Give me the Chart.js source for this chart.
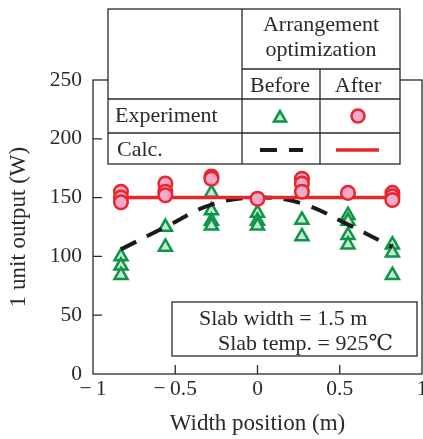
<!DOCTYPE html>
<html>
<head>
<meta charset="utf-8">
<script src="https://cdn.jsdelivr.net/npm/chart.js@4.4.1/dist/chart.umd.min.js"></script>
<style>
  html, body { margin: 0; padding: 0; background: #fff; }
  canvas { display: block; }
</style>
</head>
<body>
<canvas id="chart" width="423" height="439"></canvas>
<script>
// width positions (m) where the rolls were measured
const positions = [-0.83, -0.56, -0.28, 0, 0.27, 0.55, 0.82];
// experiment, before arrangement optimization (several readings per position)
const beforeExp = [[100, 92, 84], [125, 108], [154, 139, 130, 126], [137, 130, 126], [131, 117], [135, 130, 118, 110], [110, 103, 84]];
// experiment, after arrangement optimization
const afterExp = [[155, 150, 146], [162, 155, 152], [168, 166], [149], [166, 162, 155], [154], [154, 151, 148]];
// calculated curves
const calcBefore = [106, 125, 144, 150, 145, 127, 108];
const calcAfter = [150, 150, 150, 150, 150, 150, 150];
const xTicks = [-1, -0.5, 0, 0.5, 1];
const yTicks = [0, 50, 100, 150, 200, 250];

const FONT = '"Liberation Serif", "DejaVu Serif", serif';
const INK = '#2a2a2a';
const GREEN = '#0c9646';
const GREEN_FILL = '#c9e6d3';
const RED = '#e8262d';
const RED_FILL = '#f2aac8';

function toPoints(groups) {
  const pts = [];
  groups.forEach((vals, i) => {
    vals.forEach(v => pts.push({ x: positions[i], y: v }));
  });
  return pts;
}

function linePoints(vals) {
  return vals.map((v, i) => ({ x: positions[i], y: v }));
}

function fmtX(v) {
  return v < 0 ? '\u2212\u2009' + Math.abs(v) : String(v);
}

const framePlugin = {
  id: 'frame',
  beforeDatasetsDraw(chart) {
    const { ctx, chartArea: a, scales: { x, y } } = chart;
    ctx.save();
    ctx.strokeStyle = INK;
    ctx.lineWidth = 1.3;
    ctx.strokeRect(a.left, a.top, a.right - a.left, a.bottom - a.top);
    ctx.beginPath();
    xTicks.filter(v => v > x.min && v < x.max).forEach(v => {
      const px = x.getPixelForValue(v);
      ctx.moveTo(px, a.bottom);
      ctx.lineTo(px, a.bottom - 9);
    });
    yTicks.filter(v => v > y.min && v < y.max).forEach(v => {
      const py = y.getPixelForValue(v);
      ctx.moveTo(a.left, py);
      ctx.lineTo(a.left + 9, py);
    });
    ctx.stroke();
    ctx.restore();
  }
};

const notePlugin = {
  id: 'notes',
  afterDraw(chart) {
    const ctx = chart.ctx;
    ctx.save();
    ctx.font = '22px ' + FONT;
    ctx.strokeStyle = INK;
    ctx.lineWidth = 1.3;

    // legend table
    ctx.fillStyle = '#fff';
    ctx.fillRect(108, 9, 292, 155);
    ctx.strokeRect(108, 9, 292, 155);
    ctx.beginPath();
    ctx.moveTo(242, 9); ctx.lineTo(242, 164);
    ctx.moveTo(320, 69); ctx.lineTo(320, 164);
    ctx.moveTo(242, 69); ctx.lineTo(400, 69);
    ctx.moveTo(108, 99); ctx.lineTo(400, 99);
    ctx.moveTo(108, 133); ctx.lineTo(400, 133);
    ctx.stroke();

    ctx.fillStyle = INK;
    ctx.textBaseline = 'alphabetic';
    ctx.textAlign = 'center';
    ctx.fillText('Arrangement', 321, 31);
    ctx.fillText('optimization', 321, 56);
    ctx.fillText('Before', 280, 92);
    ctx.fillText('After', 358, 92);
    ctx.textAlign = 'left';
    ctx.fillText('Experiment', 115, 122);
    ctx.fillText('Calc.', 117, 156);

    ctx.lineWidth = 2.5;
    ctx.strokeStyle = GREEN;
    ctx.fillStyle = GREEN_FILL;
    Chart.helpers.drawPoint(ctx, { pointStyle: 'triangle', radius: 7, rotation: 0, borderWidth: 2.5 }, 280, 118);
    ctx.strokeStyle = RED;
    ctx.fillStyle = RED_FILL;
    Chart.helpers.drawPoint(ctx, { pointStyle: 'circle', radius: 6.5, rotation: 0, borderWidth: 2.5 }, 358, 116);

    ctx.lineWidth = 4;
    ctx.strokeStyle = '#1a1a1a';
    ctx.setLineDash([17, 12]);
    ctx.beginPath();
    ctx.moveTo(260, 150); ctx.lineTo(303, 150);
    ctx.stroke();
    ctx.setLineDash([]);
    ctx.lineWidth = 3.5;
    ctx.strokeStyle = RED;
    ctx.beginPath();
    ctx.moveTo(336, 150); ctx.lineTo(379, 150);
    ctx.stroke();

    // condition box
    ctx.lineWidth = 1.3;
    ctx.strokeStyle = INK;
    ctx.fillStyle = '#fff';
    ctx.fillRect(172, 302, 245, 54);
    ctx.strokeRect(172, 302, 245, 54);
    ctx.fillStyle = INK;
    ctx.textAlign = 'left';
    ctx.fillText('Slab width = 1.5 m', 199, 325);
    ctx.fillText('Slab temp. = 925\u2103', 218, 350);
    ctx.restore();
  }
};

const ctx = document.getElementById('chart').getContext('2d');
const chart = new Chart(ctx, {
  type: 'scatter',
  data: {
    datasets: [
      {
        label: 'Experiment (After)',
        data: toPoints(afterExp),
        pointStyle: 'circle',
        pointRadius: 6.8,
        borderWidth: 2.5,
        borderColor: RED,
        backgroundColor: RED_FILL,
        order: 0
      },
      {
        label: 'Calc. (After)',
        type: 'line',
        data: linePoints(calcAfter),
        borderColor: RED,
        borderWidth: 3.5,
        pointRadius: 0,
        fill: false,
        order: 1
      },
      {
        label: 'Calc. (Before)',
        type: 'line',
        data: linePoints(calcBefore),
        borderColor: '#1a1a1a',
        borderWidth: 4,
        borderDash: [17, 12],
        tension: 0.4,
        pointRadius: 0,
        fill: false,
        order: 2
      },
      {
        label: 'Experiment (Before)',
        data: toPoints(beforeExp),
        pointStyle: 'triangle',
        pointRadius: 7.5,
        borderWidth: 2.5,
        borderColor: GREEN,
        backgroundColor: GREEN_FILL,
        order: 3
      }
    ]
  },
  options: {
    responsive: false,
    animation: false,
    devicePixelRatio: 1,
    layout: { autoPadding: false, padding: { top: 80, right: 1, left: 0, bottom: 0 } },
    plugins: {
      legend: { display: false },
      tooltip: { enabled: false }
    },
    scales: {
      x: {
        type: 'linear',
        min: -1,
        max: 1,
        afterBuildTicks: s => { s.ticks = xTicks.map(v => ({ value: v })); },
        afterFit: s => { s.height = 65; s.paddingLeft = 0; s.paddingRight = 0; },
        grid: { display: false, drawTicks: false },
        border: { display: false },
        ticks: {
          autoSkip: false,
          maxRotation: 0,
          padding: 2,
          color: INK,
          font: { family: FONT, size: 21.5 },
          callback: v => fmtX(v)
        },
        title: {
          display: true,
          text: 'Width position (m)',
          color: INK,
          font: { family: FONT, size: 23 },
          padding: { top: 0, bottom: 1 }
        }
      },
      y: {
        type: 'linear',
        min: 0,
        max: 250,
        afterBuildTicks: s => { s.ticks = yTicks.map(v => ({ value: v })); },
        afterFit: s => { s.width = 93; s.paddingTop = 0; s.paddingBottom = 0; },
        grid: { display: false, drawTicks: false },
        border: { display: false },
        ticks: {
          padding: 11,
          color: INK,
          font: { family: FONT, size: 21.5 }
        },
        title: {
          display: true,
          text: '1 unit output (W)',
          color: INK,
          font: { family: FONT, size: 23 },
          padding: { top: 5, bottom: 0 }
        }
      }
    }
  },
  plugins: [framePlugin, notePlugin]
});
</script>
</body>
</html>
